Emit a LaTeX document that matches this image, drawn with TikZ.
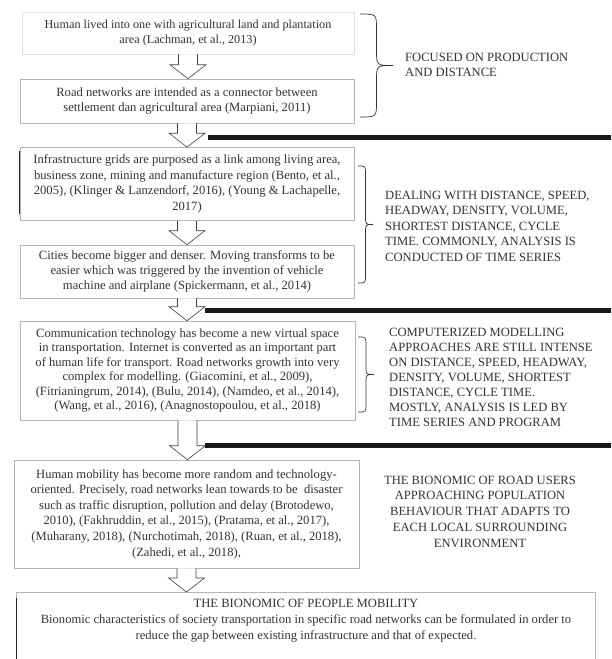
\documentclass[tikz,border=0pt]{standalone}
\usepackage{fontspec}
\setmainfont{Liberation Serif}
\usetikzlibrary{calc}
\definecolor{txt}{HTML}{333333}
\definecolor{frm}{HTML}{B4B4B4}
\tikzset{
  box/.style={draw=frm, line width=0.6pt, align=center, inner sep=0pt, text=txt, font=\fontsize{12.6}{15}\selectfont},
  note/.style={inner sep=0pt, text=txt, font=\fontsize{12.6}{15.5}\selectfont},
  harr/.style={draw=black!75, fill=white, line width=0.6pt, line join=miter},
  bar/.style={line width=5pt, black!90},
  brc/.style={draw=black!80, line width=0.7pt},
  edge dark/.style={draw=black!85, line width=0.8pt}
}
\newcommand\harrow[2]{%
  \draw[harr] let \p1=(#1.south), \p2=(#2.north) in
    (\x1-9.5pt,\y1) -- (\x1-9.5pt,\y2+14pt) -- (\x1-18pt,\y2+14pt) -- (\x1,\y2)
    -- (\x1+18pt,\y2+14pt) -- (\x1+9.5pt,\y2+14pt) -- (\x1+9.5pt,\y1);}
\newcommand\mybrace[5]{%
  \pgfmathsetmacro\bxm{#1+#4/2}\pgfmathsetmacro\bym{(#2+#3)/2}%
  \draw[brc] (#1,#2) .. controls (\bxm,#2) .. (\bxm,#2+#5) -- (\bxm,\bym-#5)
    .. controls (\bxm,\bym) .. (#1+#4,\bym) .. controls (\bxm,\bym) .. (\bxm,\bym+#5)
    -- (\bxm,#3-#5) .. controls (\bxm,#3) .. (#1,#3);}
\begin{document}
\begin{tikzpicture}[x=1pt,y=-1pt]
\useasboundingbox[fill=white] (0,0) rectangle (611,659);

\node[box, draw=gray!25, minimum width=332pt, minimum height=42pt, font=\fontsize{12.2}{15}\selectfont] (b1) at (188,33)
  {Human lived into one with agricultural land and plantation\\area (Lachman, et al., 2013)};
\node[box, minimum width=334pt, minimum height=44pt] (b2) at (187,101)
  {Road networks are intended as a connector between\\settlement dan agricultural area (Marpiani, 2011)};
\node[box, minimum width=334pt, minimum height=73pt, font=\fontsize{12.6}{15.5}\selectfont] (b3) at (187,184)
  {Infrastructure grids are purposed as a link among living area,\\business zone, mining and manufacture region (Bento, et al.,\\2005), (Klinger \& Lanzendorf, 2016), (Young \& Lachapelle,\\2017)};
\node[box, minimum width=334pt, minimum height=53pt] (b4) at (187,271.5)
  {Cities become bigger and denser. Moving transforms to be\\easier which was triggered by the invention of vehicle\\machine and airplane (Spickermann, et al., 2014)};
\node[box, minimum width=335pt, minimum height=99pt, font=\fontsize{12.6}{14.5}\selectfont] (b5) at (187.5,370.5)
  {Communication technology has become a new virtual space\\in transportation. Internet is converted as an important part\\of human life for transport. Road networks growth into very\\complex for modelling. (Giacomini, et al., 2009),\\(Fitrianingrum, 2014), (Bulu, 2014), (Namdeo, et al., 2014),\\(Wang, et al., 2016), (Anagnostopoulou, et al., 2018)};
\node[box, minimum width=345pt, minimum height=108pt, font=\fontsize{12.6}{15.6}\selectfont] (b6) at (186.5,514)
  {Human mobility has become more random and technology-\\oriented. Precisely, road networks lean towards to be\ \ disaster\\such as traffic disruption, pollution and delay (Brotodewo,\\2010), (Fakhruddin, et al., 2015), (Pratama, et al., 2017),\\(Muharany, 2018), (Nurchotimah, 2018), (Ruan, et al., 2018),\\(Zahedi, et al., 2018),};
\node[box, draw=none, anchor=north, minimum width=578pt, inner ysep=7pt,
      font=\fontsize{12.6}{16}\selectfont] (b7) at (306,592)
  {THE BIONOMIC OF PEOPLE MOBILITY\\Bionomic characteristics of society transportation in specific road networks can be formulated in order to\\reduce the gap between existing infrastructure and that of expected.};
\draw[draw=frm, line width=0.6pt] let \p1=(b7.north west), \p2=(b7.north east) in
  (\x1,-659pt) -- (\p1) -- (\p2) -- (\x2,-659pt);
\draw[edge dark] let \p1=(b7.north west) in (\x1,\y1-6pt) -- (\x1,-659pt);
\draw[edge dark] let \p1=(b3.north west), \p2=(b3.south west) in (\x1,\y1-4pt) -- (\x1,\y2+7pt);

\harrow{b1}{b2}
\harrow{b2}{b3}
\harrow{b3}{b4}
\harrow{b4}{b5}
\harrow{b5}{b6}
\harrow{b6}{b7}

\coordinate (l1s) at (208,137); \coordinate (l1e) at (611,137);
\coordinate (l2s) at (205,310); \coordinate (l2e) at (611,310);
\coordinate (l3s) at (205,445); \coordinate (l3e) at (611,445);
\draw[bar] (l1s) -- (l1e);
\draw[bar] (l2s) -- (l2e);
\draw[bar] (l3s) -- (l3e);

\mybrace{360}{14}{117}{33}{15}
\mybrace{358}{166}{283}{15}{8}
\mybrace{358}{337}{412}{16}{8}

\node[note, anchor=west, align=left] (t1) at (405,65)
  {FOCUSED ON PRODUCTION\\AND DISTANCE};
\node[note, anchor=west, align=left] (t2) at (385,226)
  {DEALING WITH DISTANCE, SPEED,\\HEADWAY, DENSITY, VOLUME,\\SHORTEST DISTANCE, CYCLE\\TIME. COMMONLY, ANALYSIS IS\\CONDUCTED OF TIME SERIES};
\node[note, anchor=west, align=left, font=\fontsize{12.6}{15}\selectfont] (t3) at (389,377)
  {COMPUTERIZED MODELLING\\APPROACHES ARE STILL INTENSE\\ON DISTANCE, SPEED, HEADWAY,\\DENSITY, VOLUME, SHORTEST\\DISTANCE, CYCLE TIME.\\MOSTLY, ANALYSIS IS LED BY\\TIME SERIES AND PROGRAM};
\node[note, align=center, font=\fontsize{12.6}{15.75}\selectfont] (t4) at (480,511.5)
  {THE BIONOMIC OF ROAD USERS\\APPROACHING POPULATION\\BEHAVIOUR THAT ADAPTS TO\\EACH LOCAL SURROUNDING\\ENVIRONMENT};
\end{tikzpicture}
\end{document}
